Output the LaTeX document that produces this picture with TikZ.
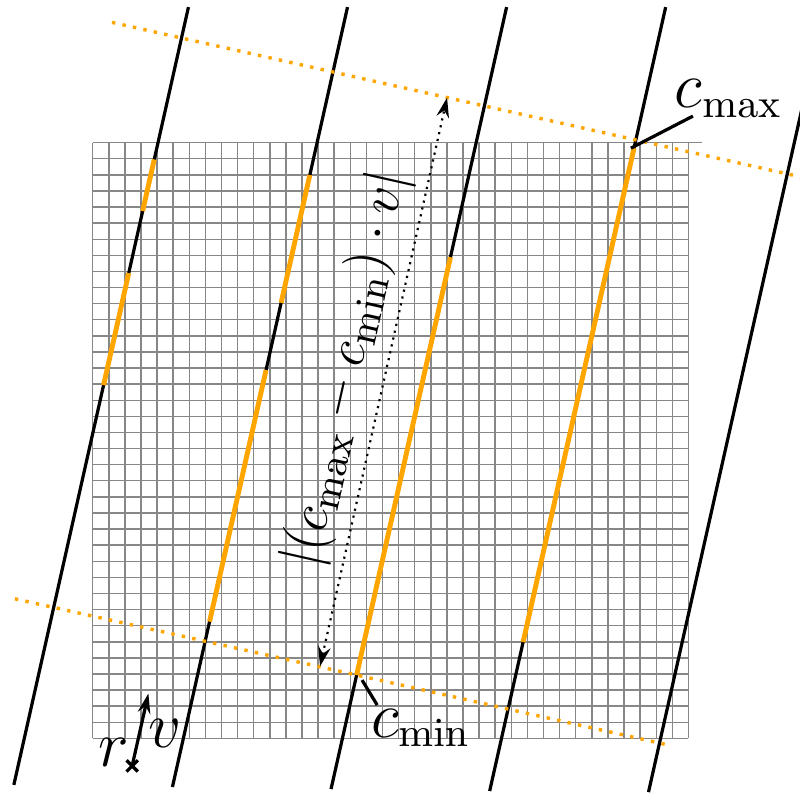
\documentclass[tikz,border=0pt]{standalone}
\usepackage{amsmath,amssymb}
\usepackage{xcolor}
\usepackage{tikz}
\usetikzlibrary{arrows.meta,calc,positioning}
\definecolor{figOrange}{RGB}{255,165,0}
\definecolor{figInk}{RGB}{0,0,0}
\definecolor{figGrid}{RGB}{135,135,135}
\tikzset{
  figgrid/.style={draw=figGrid,line width=0.32pt},
  figline/.style={draw=figInk,line width=0.71pt},
  figseg/.style={draw=figOrange,line width=1.08pt},
  figlevel/.style={draw=figOrange,line width=0.75pt,dash pattern=on 0.75pt off 1.61pt},
  figspan/.style={{Stealth[length=4.4pt,width=2.8pt,inset=1.5pt]}-{Stealth[length=4.4pt,width=2.8pt,inset=1.5pt]},
    draw=figInk,line width=0.48pt,dash pattern=on 0.48pt off 1.07pt},
  figvec/.style={-{Stealth[length=4.4pt,width=2.8pt,inset=1.5pt]},draw=figInk,line width=0.71pt},
  figpointer/.style={draw=figInk,line width=0.71pt},
  figlabel/.style={font=\fontsize{13.5}{16}\selectfont,text=figInk,inner sep=0pt},
}

\begin{document}
\begin{tikzpicture}[x=0.125cm,y=0.125cm]
% Frame: one unit is one grid cell, grid corner at the origin.
\useasboundingbox (-5.758,-3.46) rectangle (43.93,45.86);
\clip (-5.758,-3.46) rectangle (43.93,45.86);

% Pixel grid.
\draw[figgrid,step=0.125cm] (0,0) grid (37,37);
\draw[figgrid] (0,37) -- (37.83,37);

% Lines along v, with their covered parts in orange.
\foreach \x/\yb in {-4.25/-2.89,5.63/-3.02,15.51/-3.15,25.39/-3.27,35.27/-3.34}
  \draw[figline] ({\x+0.2245*\yb},\yb) -- ({\x+0.2245*45.42},45.42);
\foreach \x/\ya/\yb in {-4.25/35.96/32.75,-4.25/28.9/21.94,5.63/34.99/27.05,
                        5.63/22.88/7.25,15.51/29.89/3.93,25.39/36.66/5.98}
  \draw[figseg] ({\x+0.2245*\ya},\ya) -- ({\x+0.2245*\yb},\yb);

% Level lines through c_min and c_max.
\coordinate (cmin) at (16.42,3.93);
\coordinate (cmax) at (33.43,36.66);
\coordinate (lowA) at (-4.83,8.67);
\coordinate (lowB) at (35.73,-0.41);
\coordinate (topA) at (1.20,44.47);
\coordinate (topB) at (46.00,34.42);
\draw[figlevel] (lowA) -- (cmin) -- (lowB);
\draw[figlevel] (topA) -- (topB);

% Distance between the level lines.
\coordinate (spanlo) at (14.12,4.47);
\coordinate (spanhi) at (22.01,39.80);
\draw[figspan] (spanlo) -- (spanhi);
\node[figlabel,font=\fontsize{13.2}{16}\selectfont,rotate=77.35] (spanlbl) at (15.80,22.95)
  {$|(c_{\max}-c_{\min})\cdot v|$};

% Labels of the extreme values.
\node[figlabel,anchor=base west] (cmaxlbl) at (36.1,39.2) {$c_{\max}$};
\coordinate (cmaxtail) at (37.28,38.65);
\draw[figpointer] (cmaxtail) -- (cmax);
\node[figlabel,anchor=base west] (cminlbl) at (17.23,0.08) {$c_{\min}$};
\coordinate (cmintail) at (17.67,2.07);
\coordinate (cminhead) at (16.73,3.62);
\draw[figpointer] (cmintail) -- (cminhead);

% Origin r and direction v.
\coordinate (rpt) at (2.45,-1.71);
\coordinate (vtip) at (3.46,2.79);
\draw[figpointer] ($(rpt)+(-0.35,-0.35)$) -- ($(rpt)+(0.35,0.35)$);
\draw[figpointer] ($(rpt)+(-0.35,0.35)$) -- ($(rpt)+(0.35,-0.35)$);
\draw[figvec] (rpt) -- (vtip);
\node[figlabel,anchor=base west] (rlbl) at (0.33,-1.77) {$r$};
\node[figlabel,anchor=base west] (vlbl) at (3.38,-0.54) {$v$};
\end{tikzpicture}
\end{document}
